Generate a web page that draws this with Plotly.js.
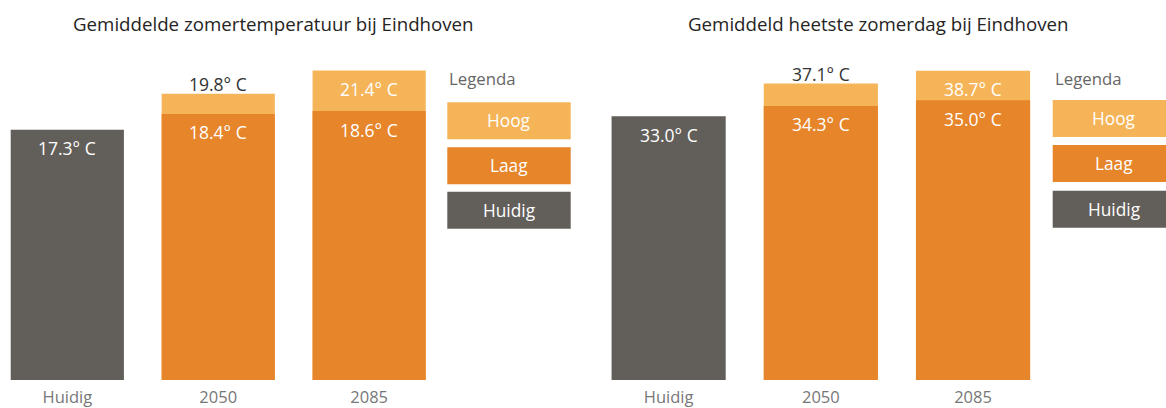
<!DOCTYPE html>
<html>
<head>
<meta charset="utf-8">
<script src="https://cdn.plot.ly/plotly-3.0.1.min.js"></script>
<style>html,body{margin:0;padding:0;background:#fff;}#chart{width:1166px;height:408px;}</style>
</head>
<body>
<div id="chart"></div>
<script>
// ---- data ----
const categories = ['Huidig', '2050', '2085'];
const futureYears = ['2050', '2085'];
const titleLeft = 'Gemiddelde zomertemperatuur bij Eindhoven';
const titleRight = 'Gemiddeld heetste zomerdag bij Eindhoven';
const legendTitle = 'Legenda';
const legendLabels = ['Hoog', 'Laag', 'Huidig'];
// left panel: average summer temperature
const avgCurrent = [17.3];
const avgLow = [18.4, 18.6];
const avgHigh = [19.8, 21.4];
// right panel: hottest summer day
const hotCurrent = [33.0];
const hotLow = [34.3, 35.0];
const hotHigh = [37.1, 38.7];

// ---- styles ----
const COL_HIGH = '#F5B457';
const COL_LOW = '#E6852A';
const COL_CUR = '#625E5A';
const legendColors = [COL_HIGH, COL_LOW, COL_CUR];
const FONT = 'Open Sans, Noto Sans, sans-serif';
const W = 1166, H = 408, MT = 60, MB = 28;
const PH = H - MT - MB;

const panels = [
  {xa: 'x', ya: 'y', cur: avgCurrent, low: avgLow, high: avgHigh, ymax: 22.13,
   title: titleLeft, titleX: 273.5, legX0: 447.3, legX1: 570.7, legY: [102.3, 147.3, 191.7], legH: 37, legTitleY: 79},
  {xa: 'x2', ya: 'y2', cur: hotCurrent, low: hotLow, high: hotHigh, ymax: 40.05,
   title: titleRight, titleX: 877.5, legX0: 1052.7, legX1: 1176, legY: [100, 145, 190.7], legH: 37, legTitleY: 78.3}
];

const fmt = v => v.toFixed(1) + '° C';
const px2x = px => px / W;
const px2y = py => (H - MB - py) / PH;
const catIdx = c => categories.indexOf(c);

const traces = [];
const annotations = [];
const shapes = [];

panels.forEach(p => {
  traces.push({type: 'bar', x: futureYears, y: p.high, xaxis: p.xa, yaxis: p.ya,
    marker: {color: COL_HIGH, line: {width: 0}}, hoverinfo: 'skip', showlegend: false});
  traces.push({type: 'bar', x: futureYears, y: p.low, xaxis: p.xa, yaxis: p.ya,
    marker: {color: COL_LOW, line: {width: 0}}, hoverinfo: 'skip', showlegend: false});
  traces.push({type: 'bar', x: [categories[0]], y: p.cur, xaxis: p.xa, yaxis: p.ya,
    marker: {color: COL_CUR, line: {width: 0}}, hoverinfo: 'skip', showlegend: false});

  const inLabel = (c, y) => annotations.push({xref: p.xa, yref: p.ya, x: catIdx(c), y: y, text: fmt(y),
    showarrow: false, yshift: -18.5, yanchor: 'middle', xanchor: 'center', font: {family: FONT, size: 17.5, color: '#ffffff'}});
  inLabel(categories[0], p.cur[0]);
  futureYears.forEach((yr, i) => {
    inLabel(yr, p.low[i]);
    const segPx = (p.high[i] - p.low[i]) * PH / p.ymax;
    if (segPx < 26) {
      annotations.push({xref: p.xa, yref: p.ya, x: catIdx(yr), y: p.high[i], text: fmt(p.high[i]),
        showarrow: false, yshift: 9.5, yanchor: 'middle', xanchor: 'center', font: {family: FONT, size: 17.5, color: '#333333'}});
    } else {
      inLabel(yr, p.high[i]);
    }
  });

  annotations.push({xref: 'paper', yref: 'paper', x: px2x(p.titleX), y: px2y(23.5), text: p.title,
    showarrow: false, xanchor: 'center', yanchor: 'middle', font: {family: FONT, size: 18.7, color: '#252423'}});
  annotations.push({xref: 'paper', yref: 'paper', x: px2x(p.legX0), y: px2y(p.legTitleY), text: legendTitle,
    showarrow: false, xanchor: 'left', yanchor: 'middle', font: {family: FONT, size: 16.8, color: '#666666'}});
  legendLabels.forEach((lab, i) => {
    const y0 = p.legY[i], y1 = y0 + p.legH;
    shapes.push({type: 'rect', xref: 'paper', yref: 'paper', x0: px2x(p.legX0), x1: px2x(p.legX1),
      y0: px2y(y1), y1: px2y(y0), fillcolor: legendColors[i], line: {width: 0}, layer: 'above'});
    annotations.push({xref: 'paper', yref: 'paper', x: px2x((p.legX0 + p.legX1) / 2), y: px2y((y0 + y1) / 2),
      text: lab, showarrow: false, xanchor: 'center', yanchor: 'middle', font: {family: FONT, size: 17.3, color: '#ffffff'}});
  });
});

const xaxisBase = {type: 'category', categoryorder: 'array', categoryarray: categories,
  showgrid: false, zeroline: false, showline: false, ticks: '', fixedrange: true, ticklabelstandoff: 5,
  tickfont: {family: FONT, size: 16.5, color: '#777777'}};
const yaxisBase = {visible: false, showgrid: false, zeroline: false, fixedrange: true};

const layout = {
  width: W, height: H,
  margin: {l: 0, r: 0, t: MT, b: MB, pad: 0},
  paper_bgcolor: '#ffffff', plot_bgcolor: '#ffffff',
  barmode: 'overlay', bargap: 0.25,
  showlegend: false,
  xaxis: Object.assign({}, xaxisBase, {domain: [0, 441 / W], range: [-0.446, 2.476], anchor: 'y'}),
  xaxis2: Object.assign({}, xaxisBase, {domain: [600 / W, 1040 / W], range: [-0.451, 2.44], anchor: 'y2'}),
  yaxis: Object.assign({}, yaxisBase, {range: [0, panels[0].ymax], anchor: 'x'}),
  yaxis2: Object.assign({}, yaxisBase, {range: [0, panels[1].ymax], anchor: 'x2'}),
  annotations: annotations,
  shapes: shapes
};

Plotly.newPlot('chart', traces, layout, {displayModeBar: false, staticPlot: true});
</script>
</body>
</html>
